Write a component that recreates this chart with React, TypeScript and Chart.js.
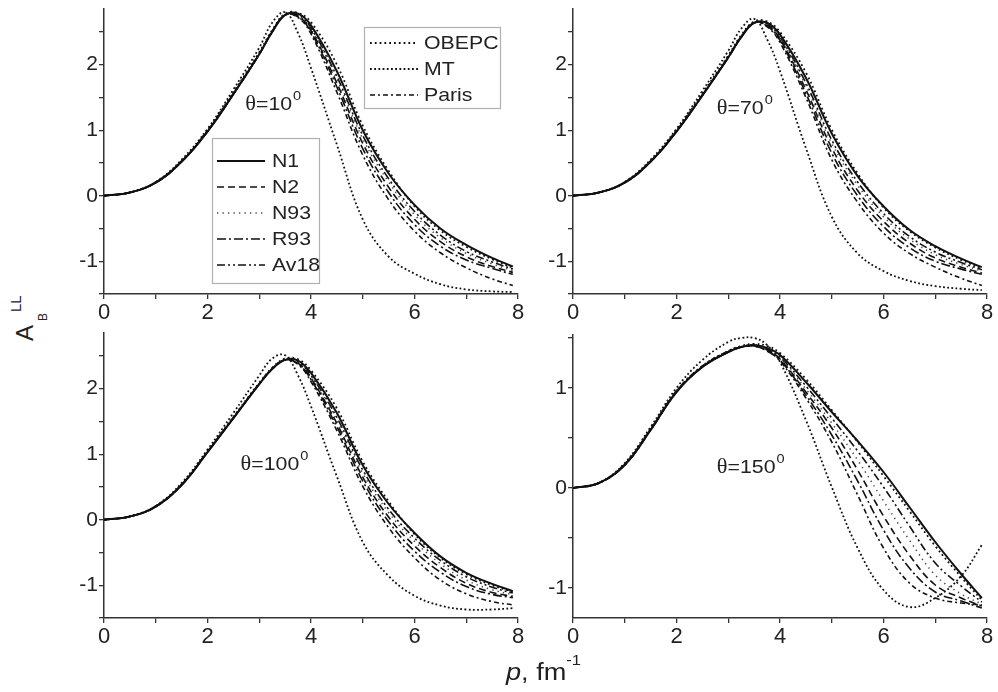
import React, { useEffect, useRef } from 'react';
import { Chart, registerables } from 'chart.js';

Chart.register(...registerables);

// momentum p, fm^-1
const P = [0, 0.5, 1, 1.5, 2, 2.5, 3, 3.25, 3.5, 3.75, 4, 4.5, 5, 5.5, 6, 6.5, 7, 7.5, 7.9];

const X_TICKS = [0, 1, 2, 3, 4, 5, 6, 7, 8];
const Y_TICKS_WIDE = [-1.5, -1, -0.5, 0, 0.5, 1, 1.5, 2, 2.5];
const Y_TICKS_NARROW = [-1, -0.5, 0, 0.5, 1, 1.5];

// theta = 10 deg
const T10_N1 = [0, 0.05, 0.2, 0.52, 0.98, 1.55, 2.16, 2.5, 2.76, 2.78, 2.6, 1.9, 1.0, 0.34, -0.14, -0.5, -0.75, -0.95, -1.08];
const T10_OBEPC = [0, 0.05, 0.21, 0.53, 1.0, 1.58, 2.19, 2.53, 2.78, 2.79, 2.65, 2.0, 1.07, 0.38, -0.16, -0.53, -0.78, -0.97, -1.1];
const T10_AV18 = [0, 0.05, 0.2, 0.52, 0.98, 1.55, 2.16, 2.5, 2.76, 2.76, 2.56, 1.82, 0.92, 0.26, -0.24, -0.6, -0.85, -1.01, -1.12];
const T10_N93 = [0, 0.05, 0.21, 0.53, 0.99, 1.56, 2.17, 2.51, 2.77, 2.75, 2.55, 1.78, 0.87, 0.21, -0.29, -0.64, -0.88, -1.04, -1.14];
const T10_N2 = [0, 0.05, 0.2, 0.52, 0.98, 1.55, 2.16, 2.5, 2.76, 2.74, 2.52, 1.72, 0.8, 0.13, -0.36, -0.7, -0.93, -1.08, -1.17];
const T10_R93 = [0, 0.05, 0.2, 0.52, 0.98, 1.55, 2.16, 2.5, 2.76, 2.73, 2.5, 1.66, 0.72, 0.05, -0.44, -0.77, -0.98, -1.11, -1.2];
const T10_PARIS = [0, 0.05, 0.2, 0.52, 0.99, 1.56, 2.17, 2.51, 2.76, 2.72, 2.47, 1.58, 0.62, -0.06, -0.54, -0.87, -1.1, -1.27, -1.37];
const T10_MT = [0, 0.05, 0.21, 0.55, 1.02, 1.62, 2.26, 2.64, 2.8, 2.48, 1.95, 0.78, -0.36, -0.93, -1.19, -1.35, -1.43, -1.46, -1.47];

// theta = 70 deg
const T70_N1 = [0, 0.05, 0.2, 0.52, 0.98, 1.53, 2.11, 2.42, 2.64, 2.64, 2.46, 1.8, 0.95, 0.3, -0.16, -0.52, -0.77, -0.96, -1.09];
const T70_OBEPC = [0, 0.05, 0.21, 0.53, 1.0, 1.56, 2.14, 2.45, 2.66, 2.66, 2.5, 1.88, 1.01, 0.34, -0.18, -0.54, -0.79, -0.98, -1.11];
const T70_AV18 = [0, 0.05, 0.2, 0.52, 0.98, 1.53, 2.11, 2.42, 2.64, 2.62, 2.42, 1.72, 0.85, 0.21, -0.27, -0.62, -0.86, -1.02, -1.13];
const T70_N93 = [0, 0.05, 0.21, 0.53, 0.99, 1.54, 2.12, 2.43, 2.65, 2.61, 2.41, 1.68, 0.8, 0.16, -0.32, -0.66, -0.9, -1.05, -1.15];
const T70_N2 = [0, 0.05, 0.2, 0.52, 0.98, 1.53, 2.11, 2.42, 2.64, 2.6, 2.39, 1.62, 0.73, 0.08, -0.39, -0.72, -0.95, -1.09, -1.18];
const T70_R93 = [0, 0.05, 0.2, 0.52, 0.98, 1.53, 2.11, 2.42, 2.64, 2.59, 2.37, 1.56, 0.65, 0.0, -0.47, -0.79, -1.0, -1.12, -1.2];
const T70_PARIS = [0, 0.05, 0.2, 0.52, 0.99, 1.54, 2.12, 2.43, 2.64, 2.58, 2.34, 1.5, 0.55, -0.1, -0.57, -0.88, -1.09, -1.26, -1.37];
const T70_MT = [0, 0.05, 0.21, 0.55, 1.02, 1.6, 2.21, 2.55, 2.7, 2.39, 1.9, 0.73, -0.32, -0.88, -1.15, -1.3, -1.38, -1.42, -1.44];

// theta = 100 deg
const T100_N1 = [0, 0.05, 0.2, 0.53, 1.03, 1.55, 2.07, 2.3, 2.44, 2.43, 2.24, 1.63, 0.83, 0.24, -0.2, -0.56, -0.81, -0.98, -1.09];
const T100_OBEPC = [0, 0.05, 0.21, 0.54, 1.04, 1.57, 2.09, 2.32, 2.46, 2.45, 2.28, 1.7, 0.89, 0.28, -0.22, -0.58, -0.83, -1.0, -1.1];
const T100_AV18 = [0, 0.05, 0.2, 0.53, 1.03, 1.55, 2.07, 2.3, 2.44, 2.41, 2.2, 1.56, 0.76, 0.16, -0.28, -0.62, -0.87, -1.03, -1.12];
const T100_N93 = [0, 0.05, 0.21, 0.54, 1.04, 1.56, 2.08, 2.31, 2.44, 2.4, 2.18, 1.52, 0.71, 0.11, -0.33, -0.67, -0.92, -1.07, -1.14];
const T100_N2 = [0, 0.05, 0.2, 0.53, 1.03, 1.55, 2.07, 2.3, 2.44, 2.39, 2.16, 1.47, 0.65, 0.04, -0.4, -0.73, -0.97, -1.11, -1.17];
const T100_R93 = [0, 0.05, 0.2, 0.53, 1.03, 1.55, 2.07, 2.3, 2.44, 2.38, 2.14, 1.42, 0.59, -0.03, -0.48, -0.8, -1.02, -1.14, -1.19];
const T100_PARIS = [0, 0.05, 0.2, 0.53, 1.04, 1.56, 2.08, 2.31, 2.44, 2.37, 2.11, 1.36, 0.51, -0.12, -0.58, -0.92, -1.13, -1.25, -1.3];
const T100_MT = [0, 0.05, 0.21, 0.56, 1.07, 1.63, 2.2, 2.46, 2.51, 2.2, 1.73, 0.66, -0.34, -0.86, -1.16, -1.31, -1.37, -1.37, -1.35];

// theta = 150 deg
const T150_N1 = [0, 0.05, 0.23, 0.58, 0.96, 1.21, 1.36, 1.41, 1.43, 1.4, 1.33, 1.06, 0.76, 0.47, 0.16, -0.19, -0.54, -0.86, -1.1];
const T150_OBEPC = [0, 0.05, 0.24, 0.59, 0.97, 1.22, 1.37, 1.42, 1.44, 1.42, 1.35, 1.09, 0.78, 0.46, 0.12, -0.23, -0.58, -0.89, -1.12];
const T150_AV18 = [0, 0.05, 0.23, 0.58, 0.96, 1.21, 1.36, 1.41, 1.43, 1.39, 1.31, 1.02, 0.7, 0.37, 0.01, -0.38, -0.75, -0.98, -1.14];
const T150_N93 = [0, 0.05, 0.24, 0.59, 0.97, 1.22, 1.37, 1.42, 1.43, 1.38, 1.3, 0.99, 0.65, 0.28, -0.13, -0.52, -0.87, -1.06, -1.16];
const T150_N2 = [0, 0.05, 0.23, 0.58, 0.96, 1.21, 1.36, 1.41, 1.42, 1.38, 1.29, 0.96, 0.6, 0.18, -0.28, -0.67, -0.97, -1.1, -1.18];
const T150_R93 = [0, 0.05, 0.23, 0.58, 0.96, 1.21, 1.36, 1.41, 1.42, 1.37, 1.28, 0.93, 0.53, 0.07, -0.42, -0.8, -1.04, -1.13, -1.2];
const T150_PARIS = [0, 0.05, 0.24, 0.59, 0.97, 1.22, 1.37, 1.41, 1.42, 1.37, 1.27, 0.9, 0.46, -0.07, -0.6, -0.95, -1.1, -1.15, -1.17];
const T150_MT = [0, 0.05, 0.25, 0.61, 1.0, 1.28, 1.46, 1.5, 1.5, 1.43, 1.26, 0.68, 0.01, -0.6, -1.02, -1.19, -1.1, -0.88, -0.57];

type Style = { dash: number[]; width: number; color: string };
const STYLES: Record<string, Style> = {
  N1: { dash: [], width: 2, color: '#111' },
  N2: { dash: [7, 4], width: 1.6, color: '#111' },
  N93: { dash: [1.3, 4.2], width: 1.5, color: '#444' },
  R93: { dash: [9, 3, 2, 3], width: 1.6, color: '#111' },
  Av18: { dash: [8, 3, 2, 3, 2, 3], width: 1.6, color: '#111' },
  OBEPC: { dash: [1.8, 3.0], width: 1.8, color: '#111' },
  MT: { dash: [1.8, 2.4], width: 1.8, color: '#111' },
  Paris: { dash: [5, 3, 2, 3], width: 1.6, color: '#111' },
};
const DRAW_ORDER = ['MT', 'Paris', 'R93', 'N2', 'N93', 'Av18', 'OBEPC', 'N1'];

const SANS = '"Liberation Sans", Arial, sans-serif';
const SERIF = '"Liberation Serif", "DejaVu Serif", serif';
const TEXT_STRETCH = 1.12;

type LegendBox = { x: number; y: number; w: number; h: number; first: number; step: number; sx0: number; sx1: number; tx: number; rows: string[] };
type Panel = {
  left: number; top: number; areaW: number; areaH: number;
  yMin: number; yMax: number; yTicks: number[];
  theta: string; thetaAt: [number, number];
  series: Record<string, number[]>;
  legends: LegendBox[];
};

const PAD_TOP = 6, PAD_RIGHT = 15, Y_AXIS_W = 45, X_AXIS_H = 35;

const PANELS: Panel[] = [
  {
    left: 59, top: 3, areaW: 414, areaH: 285, yMin: -1.5, yMax: 2.85, yTicks: Y_TICKS_WIDE,
    theta: '10', thetaAt: [2.73, 1.31],
    series: { N1: T10_N1, OBEPC: T10_OBEPC, Av18: T10_AV18, N93: T10_N93, N2: T10_N2, R93: T10_R93, Paris: T10_PARIS, MT: T10_MT },
    legends: [
      { x: 260, y: 18, w: 136, h: 81, first: 16, step: 26, sx0: 6, sx1: 54, tx: 60, rows: ['OBEPC', 'MT', 'Paris'] },
      { x: 108, y: 129, w: 107, h: 145, first: 23, step: 26, sx0: 5, sx1: 53, tx: 60, rows: ['N1', 'N2', 'N93', 'R93', 'Av18'] },
    ],
  },
  {
    left: 528, top: 3, areaW: 414, areaH: 285, yMin: -1.5, yMax: 2.85, yTicks: Y_TICKS_WIDE,
    theta: '70', thetaAt: [2.78, 1.24],
    series: { N1: T70_N1, OBEPC: T70_OBEPC, Av18: T70_AV18, N93: T70_N93, N2: T70_N2, R93: T70_R93, Paris: T70_PARIS, MT: T70_MT },
    legends: [],
  },
  {
    left: 59, top: 327, areaW: 414, areaH: 285, yMin: -1.5, yMax: 2.85, yTicks: Y_TICKS_WIDE,
    theta: '100', thetaAt: [2.64, 0.76],
    series: { N1: T100_N1, OBEPC: T100_OBEPC, Av18: T100_AV18, N93: T100_N93, N2: T100_N2, R93: T100_R93, Paris: T100_PARIS, MT: T100_MT },
    legends: [],
  },
  {
    left: 528, top: 329, areaW: 414, areaH: 283, yMin: -1.3, yMax: 1.53, yTicks: Y_TICKS_NARROW,
    theta: '150', thetaAt: [2.78, 0.15],
    series: { N1: T150_N1, OBEPC: T150_OBEPC, Av18: T150_AV18, N93: T150_N93, N2: T150_N2, R93: T150_R93, Paris: T150_PARIS, MT: T150_MT },
    legends: [],
  },
];

function stretchedText(ctx: CanvasRenderingContext2D, text: string, x: number, y: number) {
  ctx.save();
  ctx.translate(x, y);
  ctx.scale(TEXT_STRETCH, 1);
  ctx.fillText(text, 0, 0);
  ctx.restore();
  return ctx.measureText(text).width * TEXT_STRETCH;
}

function makeThetaPlugin(panel: Panel) {
  return {
    id: 'thetaLabel',
    afterDatasetsDraw(chart: any) {
      const { ctx, scales } = chart;
      const px = scales.x.getPixelForValue(panel.thetaAt[0]);
      const py = scales.y.getPixelForValue(panel.thetaAt[1]);
      ctx.save();
      ctx.fillStyle = '#222';
      ctx.textBaseline = 'alphabetic';
      ctx.textAlign = 'left';
      ctx.font = `20px ${SERIF}`;
      let w = stretchedText(ctx, 'θ', px, py);
      ctx.font = `19px ${SANS}`;
      w += stretchedText(ctx, '=' + panel.theta, px + w, py) + 1;
      ctx.font = `13px ${SANS}`;
      stretchedText(ctx, '0', px + w, py - 10);
      ctx.restore();
    },
  };
}

function makeLegendPlugin(panel: Panel) {
  return {
    id: 'boxLegend',
    afterDatasetsDraw(chart: any) {
      const { ctx, chartArea } = chart;
      for (const b of panel.legends) {
        const bx = Math.round(chartArea.left + b.x);
        const by = Math.round(chartArea.top + b.y);
        ctx.save();
        ctx.fillStyle = '#fff';
        ctx.fillRect(bx, by, b.w, b.h);
        ctx.strokeStyle = '#b0b0b0';
        ctx.lineWidth = 1.2;
        ctx.strokeRect(bx + 0.5, by + 0.5, b.w, b.h);
        b.rows.forEach((name, i) => {
          const st = STYLES[name];
          const y = by + b.first + i * b.step;
          ctx.beginPath();
          ctx.setLineDash(st.dash);
          ctx.lineWidth = st.width;
          ctx.strokeStyle = st.color;
          ctx.moveTo(bx + b.sx0, y);
          ctx.lineTo(bx + b.sx1, y);
          ctx.stroke();
          ctx.setLineDash([]);
          ctx.fillStyle = '#222';
          ctx.font = `19px ${SANS}`;
          ctx.textBaseline = 'middle';
          ctx.textAlign = 'left';
          stretchedText(ctx, name, bx + b.tx, y + 1);
        });
        ctx.restore();
      }
    },
  };
}

function buildChart(canvas: HTMLCanvasElement, panel: Panel) {
  const datasets = DRAW_ORDER.map((name) => ({
    label: name,
    data: P.map((x, i) => ({ x, y: panel.series[name][i] })),
    borderColor: STYLES[name].color,
    borderWidth: STYLES[name].width,
    borderDash: STYLES[name].dash,
    borderCapStyle: 'butt' as const,
    pointRadius: 0,
    fill: false,
    tension: 0.4,
  }));
  const axisColor = '#333';
  return new Chart(canvas, {
    type: 'line',
    data: { datasets },
    options: {
      animation: false,
      responsive: false,
      maintainAspectRatio: false,
      devicePixelRatio: 1,
      events: [],
      layout: { padding: { left: 0, right: PAD_RIGHT, top: PAD_TOP, bottom: 0 } },
      plugins: { legend: { display: false }, tooltip: { enabled: false } },
      scales: {
        x: {
          type: 'linear',
          min: 0,
          max: 8,
          afterBuildTicks: (s: any) => { s.ticks = X_TICKS.map((v) => ({ value: v })); },
          afterFit: (s: any) => { s.height = X_AXIS_H; s.paddingLeft = 0; s.paddingRight = 0; },
          ticks: {
            autoSkip: false, maxRotation: 0, padding: 1, color: '#222',
            font: { family: SANS, size: 22 },
            callback: (v: any) => (Math.abs(Number(v) % 2) < 1e-9 ? String(v) : ''),
          },
          grid: { drawOnChartArea: false, drawTicks: true, tickLength: 5, color: axisColor, lineWidth: 1.3 },
          border: { display: true, color: axisColor, width: 1.5 },
        },
        y: {
          type: 'linear',
          min: panel.yMin,
          max: panel.yMax,
          afterBuildTicks: (s: any) => { s.ticks = panel.yTicks.map((v) => ({ value: v })); },
          afterFit: (s: any) => { s.width = Y_AXIS_W; s.paddingTop = 0; s.paddingBottom = 0; },
          ticks: {
            autoSkip: false, padding: 1, color: '#222',
            font: { family: SANS, size: 21 },
            callback: (v: any) => (Number.isInteger(Number(v)) ? String(v) : ''),
          },
          grid: { drawOnChartArea: false, drawTicks: true, tickLength: 5, color: axisColor, lineWidth: 1.3 },
          border: { display: true, color: axisColor, width: 1.5 },
        },
      },
    },
    plugins: [makeThetaPlugin(panel), makeLegendPlugin(panel)],
  } as any);
}

function PanelCanvas({ panel }: { panel: Panel }) {
  const ref = useRef<HTMLCanvasElement | null>(null);
  const w = Y_AXIS_W + panel.areaW + PAD_RIGHT;
  const h = PAD_TOP + panel.areaH + X_AXIS_H;
  useEffect(() => {
    if (!ref.current) return;
    const chart = buildChart(ref.current, panel);
    return () => chart.destroy();
  }, [panel]);
  return (
    <canvas
      ref={ref}
      width={w}
      height={h}
      style={{ position: 'absolute', left: panel.left, top: panel.top, width: w, height: h }}
    />
  );
}

export default function App() {
  return (
    <div style={{ position: 'absolute', left: 0, top: 0, width: 998, height: 692, background: '#fff', overflow: 'hidden', fontFamily: SANS, color: '#222' }}>
      {PANELS.map((p, i) => (
        <PanelCanvas key={i} panel={p} />
      ))}
      <div
        style={{
          position: 'absolute', left: 13, top: 341, transformOrigin: 'left top', transform: 'rotate(-90deg)',
          fontSize: 24, lineHeight: '24px', whiteSpace: 'nowrap',
        }}
      >
        A
        <span style={{ position: 'relative', top: 14, fontSize: 12, marginLeft: 4 }}>B</span>
        <span style={{ position: 'relative', top: -12, fontSize: 15, marginLeft: 1 }}>LL</span>
      </div>
      <div
        style={{
          position: 'absolute', left: 506, top: 660.5, fontSize: 23, lineHeight: '23px', whiteSpace: 'nowrap',
          transformOrigin: 'left top', transform: `scaleX(1.18)`,
        }}
      >
        <i>p</i>, fm
        <span style={{ position: 'relative', top: -15, fontSize: 14 }}>-1</span>
      </div>
    </div>
  );
}
